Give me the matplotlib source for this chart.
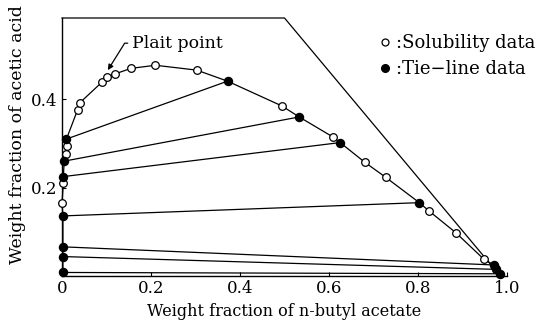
import matplotlib.pyplot as plt
from matplotlib.lines import Line2D

plt.rcParams['font.family'] = ['DejaVu Serif']

# x = weight fraction of n-butyl acetate, y = weight fraction of acetic acid
# binodal curve points in order along the curve
curve_x = [0.002, 0.002, 0.002, 0.002, 0.0, 0.003, 0.003, 0.005, 0.010, 0.012,
           0.010, 0.035, 0.040, 0.091, 0.102, 0.118, 0.155, 0.210, 0.303, 0.372,
           0.494, 0.533, 0.610, 0.625, 0.681, 0.728, 0.803, 0.825, 0.885, 0.948,
           0.970, 0.975, 0.985]
curve_y = [0.008, 0.044, 0.066, 0.136, 0.165, 0.210, 0.225, 0.260, 0.277, 0.294,
           0.310, 0.376, 0.392, 0.440, 0.451, 0.457, 0.470, 0.477, 0.466, 0.441,
           0.385, 0.360, 0.314, 0.302, 0.257, 0.223, 0.166, 0.147, 0.098, 0.038,
           0.025, 0.015, 0.005]

# solubility data (open circles)
sol_x = [0.0, 0.003, 0.010, 0.012, 0.035, 0.040, 0.091, 0.102, 0.118, 0.155,
         0.210, 0.303, 0.494, 0.610, 0.681, 0.728, 0.825, 0.885, 0.948]
sol_y = [0.165, 0.210, 0.277, 0.294, 0.376, 0.392, 0.440, 0.451, 0.457, 0.470,
         0.477, 0.466, 0.385, 0.314, 0.257, 0.223, 0.147, 0.098, 0.038]

# tie-line data (filled circles): water-rich end -> ester-rich end
tie_left_x = [0.010, 0.005, 0.003, 0.002, 0.002, 0.002, 0.002]
tie_left_y = [0.310, 0.260, 0.225, 0.136, 0.066, 0.044, 0.008]
tie_right_x = [0.372, 0.533, 0.625, 0.803, 0.970, 0.975, 0.985]
tie_right_y = [0.441, 0.360, 0.302, 0.166, 0.025, 0.015, 0.005]

# outline of the diagram region
frame_x = [0.0, 0.50, 0.985]
frame_y = [0.584, 0.584, 0.0]

xticks = [0, 0.2, 0.4, 0.6, 0.8, 1.0]
xtick_labels = ['0', '0.2', '0.4', '0.6', '0.8', '1.0']
yticks = [0.2, 0.4]
ytick_labels = ['0.2', '0.4']

fig = plt.figure(figsize=(5.38, 3.24), dpi=100)
ax = fig.add_axes([62 / 538, 48 / 324, 445 / 538, 258 / 324])

ax.plot(frame_x, frame_y, color='black', lw=0.9, clip_on=False)

for lx, ly, rx, ry in zip(tie_left_x, tie_left_y, tie_right_x, tie_right_y):
    ax.plot([lx, rx], [ly, ry], color='black', lw=0.9, zorder=2, clip_on=False)

ax.plot(curve_x, curve_y, color='black', lw=0.9, zorder=2, clip_on=False)
ax.plot(sol_x, sol_y, 'o', ms=5.5, mfc='white', mec='black', mew=0.9,
        zorder=3, clip_on=False)
ax.plot(tie_left_x + tie_right_x, tie_left_y + tie_right_y, 'o', ms=5.8,
        color='black', zorder=4, clip_on=False)

ax.annotate('Plait point', xy=(0.103, 0.466), xytext=(0.157, 0.527),
            fontsize=12.5, ha='left', va='center',
            arrowprops=dict(arrowstyle='-|>', color='black', lw=0.9,
                            mutation_scale=8, relpos=(0, 0.5),
                            shrinkA=1, shrinkB=0,
                            connectionstyle='angle,angleA=0,angleB=58,rad=0'))

handles = [
    Line2D([], [], marker='o', ls='none', ms=5, mfc='white', mec='black', mew=0.9),
    Line2D([], [], marker='o', ls='none', ms=5.5, color='black'),
]
fig.legend(handles, [':Solubility data', ':Tie\u2212line data'],
           loc='upper right', bbox_to_anchor=(1.012, 0.922), frameon=False,
           fontsize=13, handlelength=0.6, handletextpad=0.3,
           labelspacing=0.45, borderpad=0.0)

ax.set_xlim(0, 1.0)
ax.set_ylim(0, 0.584)
ax.set_xticks(xticks)
ax.set_xticklabels(xtick_labels)
ax.set_yticks(yticks)
ax.set_yticklabels(ytick_labels)
ax.tick_params(direction='in', length=3, width=0.8, labelsize=12, pad=3)
ax.spines['top'].set_visible(False)
ax.spines['right'].set_visible(False)
for s in ('left', 'bottom'):
    ax.spines[s].set_linewidth(1.0)

ax.set_xlabel('Weight fraction of n-butyl acetate', fontsize=11.5, labelpad=4)
ax.set_ylabel('Weight fraction of acetic acid', fontsize=12.5)
ax.yaxis.set_label_coords(-0.082, 0.547)

fig.savefig('out.png', dpi=100)
